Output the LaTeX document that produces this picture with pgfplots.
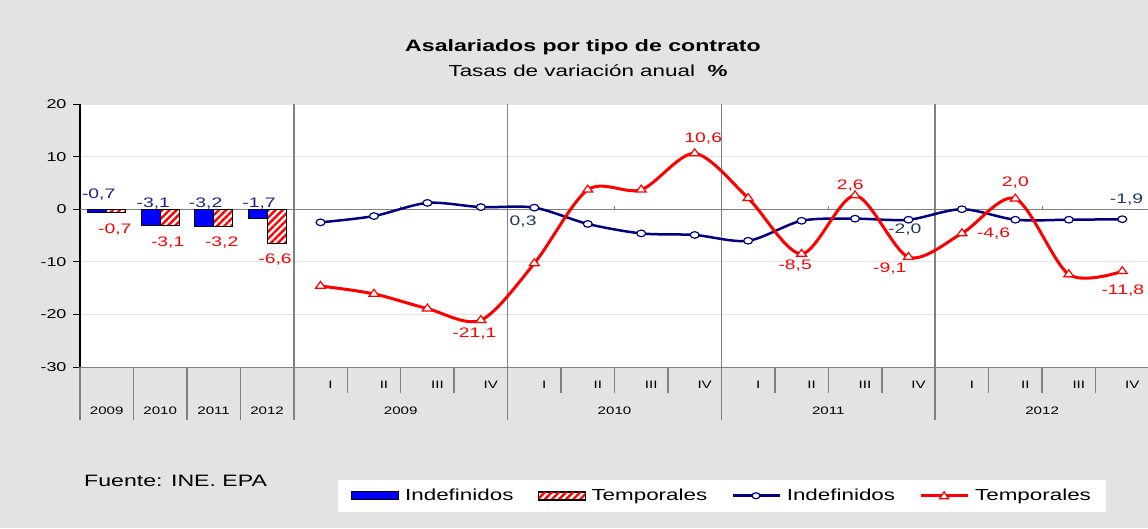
\documentclass[border=0pt]{standalone}
\usepackage{fontspec}
\setmainfont{Liberation Sans}[FakeStretch=1.4]
\usepackage{pgfplots}
\pgfplotsset{compat=1.18}
\usetikzlibrary{patterns.meta}
\definecolor{bg}{RGB}{227,227,227}
\definecolor{navy}{RGB}{0,0,128}
\definecolor{lblnavy}{RGB}{32,32,140}
\definecolor{lblslate}{RGB}{31,56,100}
\definecolor{sepc}{RGB}{128,128,128}
\definecolor{gridc}{RGB}{228,228,228}
\newcommand\catfont{\fontsize{10.8}{12}\selectfont}
\newcommand\lblfont{\fontsize{13.8}{15}\selectfont}
\begin{document}
\begin{tikzpicture}
\path[use as bounding box] (0pt,0pt) rectangle (1148pt,528pt);
\fill[bg] (0pt,0pt) rectangle (1148pt,528pt);
\node[font=\fontsize{16.5}{18}\selectfont\bfseries] at (583pt,481pt) {Asalariados por tipo de contrato};
\node[font=\fontsize{16}{18}\selectfont] at (588pt,457pt) {Tasas de variación anual\ \ \textbf{\%}};
\node[font=\fontsize{16.5}{18}\selectfont, anchor=west, inner sep=0pt] at (84pt,47pt) {Fuente: INE. EPA};
\begin{axis}[
  at={(80pt,161pt)}, anchor=south west, scale only axis,
  width=1069pt, height=263pt,
  xmin=-0.5, xmax=19.5, ymin=-30, ymax=20,
  axis x line=none, axis y line*=left,
  y axis line style={-, black, line width=1.2pt},
  axis background/.style={fill=white},
  xtick=\empty,
  ytick={-30,-20,-10,0,10,20},
  yticklabels={\mbox{-30},\mbox{-20},\mbox{-10},\mbox{0},\mbox{10},\mbox{20}},
  tick align=outside, major tick length=7pt,
  ytick style={black, line width=1pt},
  yticklabel style={font=\fontsize{12.8}{14}\selectfont, xshift=-3pt},
  ymajorgrids, grid style={gridc, line width=0.8pt},
  clip=false,
  legend columns=4,
  legend style={at={(0.2413,-0.5513)}, anchor=south west, draw=none, fill=white,
    inner xsep=13pt, inner ysep=7.5pt,
    font=\fontsize{16}{18}\selectfont,
    /tikz/every odd column/.append style={column sep=4pt},
    /tikz/every even column/.append style={column sep=22pt}},
]
% zero line and separators
\draw[sepc, line width=1.3pt] (axis cs:-0.5,0) -- (axis cs:19.5,0);
\draw[sepc, line width=1pt] (axis cs:5.5,0) -- ++(0pt,3pt);
\draw[sepc, line width=1pt] (axis cs:9.5,0) -- ++(0pt,3pt);
\draw[sepc, line width=1pt] (axis cs:13.5,0) -- ++(0pt,3pt);
\draw[sepc, line width=1pt] (axis cs:17.5,0) -- ++(0pt,3pt);
\draw[sepc, line width=1.5pt] (axis cs:3.5,20) -- (axis cs:3.5,-30) -- ++(0pt,-53pt);
\draw[sepc, line width=1.5pt] (axis cs:7.5,20) -- (axis cs:7.5,-30) -- ++(0pt,-53pt);
\draw[sepc, line width=1.5pt] (axis cs:11.5,20) -- (axis cs:11.5,-30) -- ++(0pt,-53pt);
\draw[sepc, line width=1.5pt] (axis cs:15.5,20) -- (axis cs:15.5,-30) -- ++(0pt,-53pt);
\draw[sepc, line width=0.8pt] (axis cs:-0.5,-30) -- (axis cs:19.5,-30);
\draw[sepc, line width=1.5pt] (axis cs:-0.5,-30) -- ++(0pt,-53pt);
\draw[sepc, line width=1.5pt] (axis cs:0.5,-30) -- ++(0pt,-53pt);
\draw[sepc, line width=1.5pt] (axis cs:1.5,-30) -- ++(0pt,-53pt);
\draw[sepc, line width=1.5pt] (axis cs:2.5,-30) -- ++(0pt,-53pt);
\pgfplotsinvokeforeach{4.5,5.5,6.5,8.5,9.5,10.5,12.5,13.5,14.5,16.5,17.5,18.5}{
  \draw[sepc, line width=1.5pt] (axis cs:#1,-30) -- ++(0pt,-26pt);
}
% category labels
\pgfplotsinvokeforeach{4,8,12,16}{
  \node[font=\catfont] at (axis cs:#1,-30) [xshift=10pt, yshift=-18pt] {I};
}
\pgfplotsinvokeforeach{5,9,13,17}{
  \node[font=\catfont] at (axis cs:#1,-30) [xshift=10pt, yshift=-18pt] {II};
}
\pgfplotsinvokeforeach{6,10,14,18}{
  \node[font=\catfont] at (axis cs:#1,-30) [xshift=10pt, yshift=-18pt] {III};
}
\pgfplotsinvokeforeach{7,11,15,19}{
  \node[font=\catfont] at (axis cs:#1,-30) [xshift=10pt, yshift=-18pt] {IV};
}
\node[font=\catfont] at (axis cs:0,-30) [yshift=-44pt] {2009};
\node[font=\catfont] at (axis cs:1,-30) [yshift=-44pt] {2010};
\node[font=\catfont] at (axis cs:2,-30) [yshift=-44pt] {2011};
\node[font=\catfont] at (axis cs:3,-30) [yshift=-44pt] {2012};
\node[font=\catfont] at (axis cs:5.5,-30) [yshift=-44pt] {2009};
\node[font=\catfont] at (axis cs:9.5,-30) [yshift=-44pt] {2010};
\node[font=\catfont] at (axis cs:13.5,-30) [yshift=-44pt] {2011};
\node[font=\catfont] at (axis cs:17.5,-30) [yshift=-44pt] {2012};
% annual bars
\addplot[ybar, bar width=19pt, bar shift=-9.5pt, fill=blue, draw=black, line width=1pt, forget plot]
  coordinates {(0,-0.7) (1,-3.1) (2,-3.2) (3,-1.7)};
\addplot[ybar, bar width=19pt, bar shift=9.5pt, preaction={fill=white},
  pattern={Lines[angle=45,distance=5pt,line width=2.4pt]}, pattern color=red,
  draw=black, line width=1pt, forget plot]
  coordinates {(0,-0.7) (1,-3.1) (2,-3.2) (3,-6.6)};
% quarterly lines
\addplot[navy, line width=2.5pt, smooth, mark=*, mark size=3.3pt,
  mark options={fill=white, draw=navy, line width=1.2pt, xscale=1.35}, forget plot]
  coordinates {(4,-2.5) (5,-1.3) (6,1.2) (7,0.4) (8,0.3) (9,-2.8) (10,-4.6) (11,-4.9)
               (12,-6.0) (13,-2.2) (14,-1.8) (15,-2.0) (16,0.0) (17,-2.0) (18,-2.0) (19,-1.9)};
\addplot[red, line width=3pt, smooth, mark=triangle*, mark size=4.6pt,
  mark options={fill=white, draw=red, line width=1.2pt, xscale=1.25}, forget plot]
  coordinates {(4,-14.6) (5,-16.1) (6,-18.9) (7,-21.1) (8,-10.3) (9,3.7) (10,3.7) (11,10.6)
               (12,2.1) (13,-8.5) (14,2.6) (15,-9.1) (16,-4.6) (17,2.0) (18,-12.4) (19,-11.8)};
% data labels: bars
\node[font=\lblfont, text=lblnavy] at (axis cs:-0.15,2.7) {-0,7};
\node[font=\lblfont, text=lblnavy] at (axis cs:0.87,1.0) {-3,1};
\node[font=\lblfont, text=lblnavy] at (axis cs:1.85,1.0) {-3,2};
\node[font=\lblfont, text=lblnavy] at (axis cs:2.85,1.1) {-1,7};
\node[font=\lblfont, text=red] at (axis cs:0.15,-3.85) {-0,7};
\node[font=\lblfont, text=red] at (axis cs:1.14,-6.3) {-3,1};
\node[font=\lblfont, text=red] at (axis cs:2.15,-6.3) {-3,2};
\node[font=\lblfont, text=red] at (axis cs:3.15,-9.55) {-6,6};
% data labels: lines
\node[font=\lblfont, text=lblslate] at (axis cs:7.79,-2.3) {0,3};
\node[font=\lblfont, text=lblslate] at (axis cs:14.93,-3.9) {-2,0};
\node[font=\lblfont, text=lblslate] at (axis cs:19.08,1.77) {-1,9};
\node[font=\lblfont, text=red] at (axis cs:11.16,13.4) {10,6};
\node[font=\lblfont, text=red] at (axis cs:6.88,-23.6) {-21,1};
\node[font=\lblfont, text=red] at (axis cs:12.88,-10.7) {-8,5};
\node[font=\lblfont, text=red] at (axis cs:13.91,4.5) {2,6};
\node[font=\lblfont, text=red] at (axis cs:14.65,-11.35) {-9,1};
\node[font=\lblfont, text=red] at (axis cs:16.59,-4.56) {-4,6};
\node[font=\lblfont, text=red] at (axis cs:17.0,5.1) {2,0};
\node[font=\lblfont, text=red] at (axis cs:19.01,-15.5) {-11,8};
% legend
\addlegendimage{legend image code/.code={\draw[fill=blue, draw=black, line width=1pt] (0pt,-4pt) rectangle (47pt,4pt);}}
\addlegendentry{Indefinidos}
\addlegendimage{legend image code/.code={\draw[preaction={fill=white}, pattern={Lines[angle=45,distance=5pt,line width=2.4pt]}, pattern color=red, draw=black, line width=1pt] (0pt,-4pt) rectangle (47pt,4pt);}}
\addlegendentry{Temporales}
\addlegendimage{legend image code/.code={\draw[navy, line width=2.5pt] (0pt,0pt) -- (47pt,0pt); \draw[navy, fill=white, line width=1.2pt] (23.5pt,0pt) ellipse (4pt and 3pt);}}
\addlegendentry{Indefinidos}
\addlegendimage{legend image code/.code={\draw[red, line width=3pt] (0pt,0pt) -- (47pt,0pt); \draw[red, fill=white, line width=1.2pt] (19pt,-3pt) -- (28pt,-3pt) -- (23.5pt,4pt) -- cycle;}}
\addlegendentry{Temporales}
\end{axis}
\end{tikzpicture}
\end{document}
